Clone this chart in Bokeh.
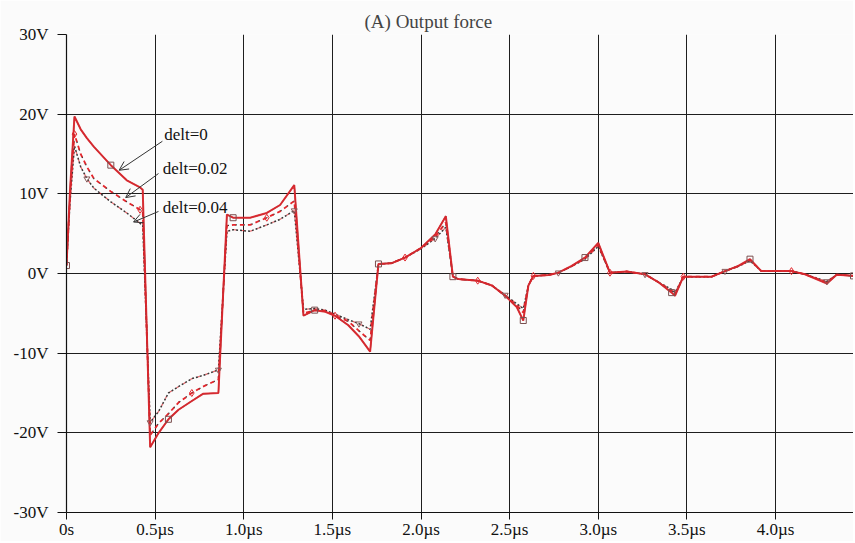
from bokeh.plotting import figure
from bokeh.models import (ColumnDataSource, FixedTicker, Label, Arrow, OpenHead)
from bokeh.embed import file_html
from bokeh.resources import INLINE

# ---- data (time in microseconds, force output in volts) ----
t_us = [0.000, 0.020, 0.045, 0.080, 0.115, 0.155, 0.250, 0.340, 0.415, 0.430,
        0.472, 0.520, 0.575, 0.632, 0.707, 0.770, 0.857, 0.905, 0.940, 1.036,
        1.130, 1.205, 1.285, 1.337, 1.400, 1.460, 1.515, 1.590, 1.650, 1.713,
        1.760, 1.835, 1.910, 2.000, 2.080, 2.140, 2.180, 2.210, 2.320, 2.400,
        2.475, 2.540, 2.577, 2.606, 2.634, 2.720, 2.775, 2.850, 2.925, 3.000,
        3.066, 3.160, 3.264, 3.340, 3.414, 3.433, 3.480, 3.640, 3.715, 3.790,
        3.856, 3.920, 4.090, 4.166, 4.290, 4.345, 4.440]

v_delt0 = [1.0, 10.5, 19.7, 18.1, 17.0, 15.9, 13.6, 11.7, 10.8, 10.5,
           -21.8, -20.0, -18.3, -17.1, -16.0, -15.1, -15.0, 7.4, 7.0, 7.0,
           7.6, 8.6, 11.1, -5.3, -4.6, -4.8, -5.3, -6.5, -7.9, -9.8,
           1.2, 1.3, 2.0, 3.2, 4.9, 7.2, -0.4, -0.7, -0.9, -1.5,
           -2.8, -4.2, -5.9, -1.5, -0.3, -0.2, 0.1, 0.95, 2.0, 3.85,
           0.1, 0.25, -0.1, -1.1, -2.4, -2.8, -0.4, -0.4, 0.3, 0.95,
           1.8, 0.3, 0.3, -0.1, -1.25, -0.15, -0.3]

v_delt002 = [1.0, 9.5, 17.5, 15.0, 13.4, 11.9, 10.3, 9.0, 8.0, 7.8,
             -20.3, -18.8, -17.6, -16.2, -15.0, -14.2, -13.3, 6.0, 6.1, 6.1,
             7.0, 7.8, 9.1, -5.0, -4.6, -4.7, -5.3, -6.0, -7.2, -8.4,
             1.2, 1.3, 2.0, 3.2, 4.6, 6.4, -0.4, -0.7, -0.9, -1.5,
             -2.8, -4.0, -4.9, -1.5, -0.3, -0.2, 0.1, 0.9, 1.9, 3.6,
             0.1, 0.25, -0.1, -1.1, -2.2, -2.6, -0.4, -0.4, 0.3, 0.9,
             1.7, 0.3, 0.3, -0.1, -1.1, -0.15, -0.3]

v_delt004 = [1.0, 9.0, 16.0, 13.4, 11.9, 10.7, 9.0, 7.6, 6.3, 6.1,
             -18.7, -17.3, -15.0, -14.2, -13.2, -12.8, -12.1, 5.3, 5.5, 5.3,
             6.1, 6.8, 7.9, -4.5, -4.4, -4.6, -5.1, -5.8, -6.3, -7.0,
             1.2, 1.3, 2.0, 3.1, 4.4, 5.8, -0.4, -0.7, -0.9, -1.5,
             -2.7, -3.8, -4.4, -1.5, -0.3, -0.2, 0.1, 0.9, 1.8, 3.4,
             0.1, 0.25, -0.1, -1.1, -2.0, -2.4, -0.4, -0.4, 0.3, 0.9,
             1.6, 0.3, 0.3, -0.1, -1.0, -0.15, -0.3]

x_ticks = [0.0, 0.5, 1.0, 1.5, 2.0, 2.5, 3.0, 3.5, 4.0]
x_tick_labels = ["0s", "0.5\u00b5s", "1.0\u00b5s", "1.5\u00b5s", "2.0\u00b5s",
                 "2.5\u00b5s", "3.0\u00b5s", "3.5\u00b5s", "4.0\u00b5s"]
y_ticks = [-30, -20, -10, 0, 10, 20, 30]
y_tick_labels = ["-30V", "-20V", "-10V", "0V", "10V", "20V", "30V"]

series_names = ["delt=0", "delt=0.02", "delt=0.04"]

# ---- styles ----
RED = "#e3262c"
DARK = "#3a3434"
FONT = "Liberation Serif"
BG = "#fbfbfb"

src = ColumnDataSource(dict(t=t_us, v0=v_delt0, v2=v_delt002, v4=v_delt004))

p = figure(width=853, height=541, x_range=(0, 4.44), y_range=(-30, 30),
           output_backend="svg", toolbar_location=None,
           background_fill_color=BG, border_fill_color=BG,
           min_border_left=66, min_border_right=0, min_border_top=34,
           min_border_bottom=0, title="(A) Output force")
p.outline_line_color = None

p.title.text_font = FONT
p.title.text_font_size = "19px"
p.title.text_font_style = "normal"
p.title.align = "left"
p.title.offset = 298
p.title.standoff = 6

# axes
p.xaxis.ticker = FixedTicker(ticks=x_ticks)
p.xaxis.major_label_overrides = {k: v for k, v in zip(x_ticks, x_tick_labels)}
p.yaxis.ticker = FixedTicker(ticks=y_ticks)
p.yaxis.major_label_overrides = {k: v for k, v in zip(y_ticks, y_tick_labels)}
for ax in (p.xaxis, p.yaxis):
    ax.major_label_text_font = FONT
    ax.major_label_text_font_size = "17px"
    ax.major_label_text_color = "#111111"
    ax.axis_line_color = "#111111"
    ax.axis_line_width = 1.2
    ax.major_tick_line_color = "#111111"
    ax.major_tick_in = 0
    ax.minor_tick_line_color = None
p.xaxis.major_tick_out = 7
p.xaxis.major_label_standoff = 0
p.yaxis.major_tick_out = 9
p.yaxis.major_label_standoff = 9

p.xgrid.ticker = FixedTicker(ticks=x_ticks)
p.ygrid.ticker = FixedTicker(ticks=y_ticks)
for g in (p.xgrid, p.ygrid):
    g.grid_line_color = "#1e1e1e"
    g.grid_line_width = 1
    g.grid_line_alpha = 1.0

# ---- traces ----
# delt=0.04 : dotted
p.line("t", "v4", source=src, line_color=DARK, line_width=1.5, line_dash="2 2")
p.line("t", "v4", source=src, line_color=RED, line_width=1.2, line_dash="2 6",
       line_dash_offset=2, line_alpha=0.7)
# delt=0.02 : dashed
p.line("t", "v2", source=src, line_color=DARK, line_width=1.3, line_dash="2 6",
       line_dash_offset=5)
p.line("t", "v2", source=src, line_color=RED, line_width=1.8, line_dash="4 4")
# delt=0 : solid
p.line("t", "v0", source=src, line_color=DARK, line_width=1.2)
p.line("t", "v0", source=src, line_color=RED, line_width=2.0, line_alpha=0.9)

# sparse markers (PSpice-like trace symbols)
step = 6
idx0 = list(range(0, len(t_us), step))
idx2 = list(range(2, len(t_us), step))
idx4 = list(range(4, len(t_us), step))
p.scatter([t_us[i] for i in idx0], [v_delt0[i] for i in idx0], marker="square",
          size=6, fill_color=None, line_color="#7a5050", line_width=1)
p.scatter([t_us[i] for i in idx2], [v_delt002[i] for i in idx2], marker="diamond",
          size=7, fill_color=None, line_color=RED, line_width=1)
p.scatter([t_us[i] for i in idx4], [v_delt004[i] for i in idx4],
          marker="inverted_triangle", size=6, fill_color=None,
          line_color="#8a5a5a", line_width=1)

# ---- annotations ----
label_pos = [(0.551, 17.5), (0.543, 13.2), (0.543, 8.3)]
arrow_pos = [((0.541, 16.6), (0.297, 12.96)),
             ((0.519, 12.55), (0.334, 9.53)),
             ((0.519, 7.79), (0.378, 6.46))]
for name, (lx, ly), ((xs, ys), (xe, ye)) in zip(series_names, label_pos, arrow_pos):
    p.add_layout(Label(x=lx, y=ly, text=name, text_font=FONT,
                       text_font_size="17px", text_baseline="middle",
                       text_color="#111111"))
    p.add_layout(Arrow(x_start=xs, y_start=ys, x_end=xe, y_end=ye,
                       line_color="#333333", line_width=1,
                       end=OpenHead(size=9, line_width=1, line_color="#333333")))

open("out.html", "w").write(file_html(p, INLINE))
